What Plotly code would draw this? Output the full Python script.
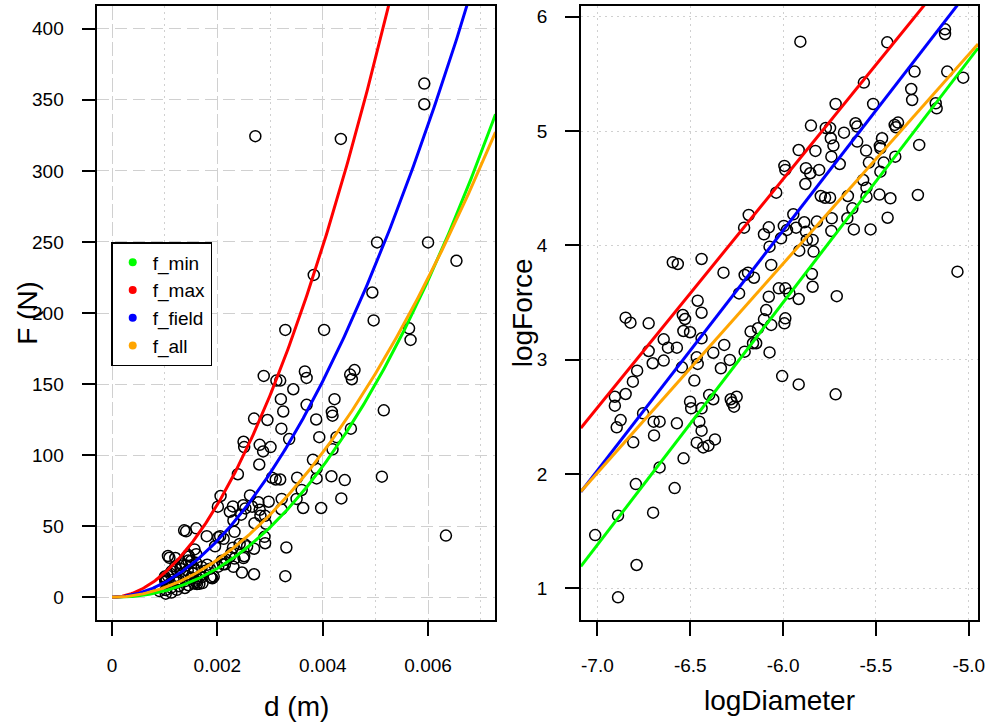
import numpy as np
import plotly.graph_objects as go

# ---------------- data (natural-log scale) ----------------
logDiameter = [
    -5.907, -5.439, -5.128, -5.128, -5.292, -5.116, -5.030, -5.310, -5.305, -5.565,
    -5.515, -5.717, -5.178, -5.173, -5.850, -5.770, -5.747, -5.672, -5.610, -5.601,
    -5.743, -5.729, -5.601, -5.553, -5.479, -5.467, -5.476, -5.399, -5.381, -5.392,
    -5.267, -5.916, -5.826, -5.740, -5.695, -5.538, -5.458, -5.396, -5.476, -5.993,
    -5.988, -5.877, -5.854, -5.806, -5.880, -5.569, -5.551, -6.037, -5.797, -5.774,
    -5.747, -5.651, -5.551, -5.481, -5.422, -5.274, -6.185, -6.210, -6.103, -6.077,
    -5.945, -5.996, -5.979, -5.930, -5.886, -5.877, -5.818, -5.738, -5.740, -5.654,
    -5.627, -5.619, -5.529, -5.437, -6.073, -6.011, -5.872, -5.841, -5.913, -5.836,
    -6.594, -6.567, -6.439, -6.321, -6.207, -6.189, -6.157, -6.237, -6.064, -5.845,
    -5.841, -5.711, -6.023, -5.988, -5.966, -5.916, -6.077, -6.460, -6.439, -6.540,
    -6.528, -6.091, -6.103, -6.064, -5.988, -5.993, -6.848, -6.822, -6.724, -6.537,
    -6.501, -6.439, -6.643, -6.620, -6.572, -6.175, -6.135, -6.162, -6.145, -6.317,
    -6.073, -6.207, -6.376, -6.724, -5.061,
    -6.643, -6.702, -6.786, -6.809, -6.848, -6.906, -6.906, -6.875, -6.896, -6.807,
    -6.754, -6.697, -6.665, -6.695, -6.572, -6.545, -6.465, -6.460, -6.478, -6.335,
    -6.287, -6.501, -6.495, -6.439, -6.398, -6.376, -6.451, -6.439, -6.465, -6.430,
    -6.402, -6.367, -6.282, -6.250, -6.275, -6.264, -6.536, -6.665, -6.793, -6.584,
    -6.889, -6.700, -7.012, -6.789, -6.889, -6.005, -5.916, -5.717,
]
logForce = [
    5.782, 5.776, 5.890, 5.849, 5.520, 5.520, 5.467, 5.368, 5.272, 5.424,
    5.237, 5.237, 5.243, 5.199, 5.048, 5.027, 5.027, 4.986, 5.068, 5.039,
    4.937, 4.873, 4.908, 4.829, 4.870, 4.937, 4.850, 5.054, 5.074, 5.033,
    4.879, 4.834, 4.826, 4.776, 4.712, 4.724, 4.724, 4.776, 4.645, 4.695,
    4.660, 4.675, 4.631, 4.660, 4.537, 4.572, 4.505, 4.461, 4.432, 4.417,
    4.417, 4.432, 4.426, 4.444, 4.412, 4.441, 4.266, 4.155, 4.097, 4.158,
    4.272, 4.170, 4.135, 4.155, 4.202, 4.120, 4.208, 4.237, 4.126, 4.237,
    4.324, 4.140, 4.140, 4.242, 3.989, 4.062, 4.048, 4.048, 3.954, 3.946,
    3.852, 3.837, 3.881, 3.761, 3.741, 3.761, 3.717, 3.580, 3.829, 3.750,
    3.638, 3.556, 3.624, 3.624, 3.580, 3.531, 3.551, 3.516, 3.411, 3.391,
    3.356, 3.434, 3.353, 3.304, 3.362, 3.318, 3.368, 3.324, 3.318, 3.251,
    3.240, 3.187, 3.178, 3.105, 3.105, 3.246, 3.275, 3.144, 3.144, 3.129,
    3.064, 3.070, 3.061, 3.076, 3.770,
    2.992, 2.969, 2.904, 2.808, 2.700, 2.676, 2.598, 2.472, 2.408, 2.277,
    2.531, 2.458, 2.458, 2.338, 2.443, 2.933, 3.021, 2.963, 2.817, 2.925,
    2.998, 2.633, 2.575, 2.575, 2.692, 2.654, 2.458, 2.379, 2.274, 2.233,
    2.248, 2.303, 2.654, 2.676, 2.625, 2.589, 2.137, 2.058, 1.912, 1.877,
    1.636, 1.662, 1.466, 1.204, 0.921, 2.857, 2.784, 2.697,
]

series_names = ["f_min", "f_max", "f_field", "f_all"]
series_colors = ["#00FF00", "#FF0000", "#0000FF", "#FFA500"]
# power-law fits on the left panel: F = exp(lnA) * d^b
left_lnA = [16.56, 16.11, 15.68, 15.39]
left_b = [2.18, 1.92, 1.93, 1.95]
# straight-line fits on the right panel: logForce = intercept + slope * logDiameter
right_intercept = [16.22, 16.58, 16.73, 14.82]
right_slope = [2.12, 2.00, 2.10, 1.83]

left_xticks = [0, 0.002, 0.004, 0.006]
left_xticktext = ["0", "0.002", "0.004", "0.006"]
left_yticks = [0, 50, 100, 150, 200, 250, 300, 350, 400]
right_xticks = [-7.0, -6.5, -6.0, -5.5, -5.0]
right_xticktext = ["-7.0", "-6.5", "-6.0", "-5.5", "-5.0"]
right_yticks = [1, 2, 3, 4, 5, 6]

# ---------------- figure ----------------
W, H = 994, 723
FONT = "Liberation Sans, Arial, sans-serif"

d_vals = np.exp(np.array(logDiameter))
F_vals = np.exp(np.array(logForce))

LX = [-0.00028, 0.00728]
LY = [-16, 416]
RX = [-7.089, -4.950]
RY = [0.723, 6.094]

fig = go.Figure()

fig.add_trace(go.Scatter(
    x=d_vals, y=F_vals, mode="markers", xaxis="x", yaxis="y", showlegend=False,
    marker=dict(symbol="circle-open", size=11, color="black", line=dict(width=1.5)),
))
fig.add_trace(go.Scatter(
    x=logDiameter, y=logForce, mode="markers", xaxis="x2", yaxis="y2", showlegend=False,
    marker=dict(symbol="circle-open", size=11, color="black", line=dict(width=1.5)),
))

dgrid = np.linspace(0, LX[1], 300)
xgrid = np.linspace(RX[0], RX[1], 2)
for name, col, a, b, ic, sl in zip(series_names, series_colors, left_lnA, left_b,
                                   right_intercept, right_slope):
    fig.add_trace(go.Scatter(
        x=dgrid, y=np.exp(a) * dgrid ** b, mode="lines", xaxis="x", yaxis="y",
        line=dict(color=col, width=3), showlegend=False, hoverinfo="skip",
    ))
    fig.add_trace(go.Scatter(
        x=xgrid, y=ic + sl * xgrid, mode="lines", xaxis="x2", yaxis="y2",
        line=dict(color=col, width=3), showlegend=False, hoverinfo="skip",
    ))

for name, col in zip(series_names, series_colors):
    fig.add_trace(go.Scatter(
        x=[None], y=[None], mode="markers", name=name, xaxis="x", yaxis="y",
        marker=dict(color=col, size=8, symbol="circle"),
    ))

def px2fx(p):
    return p / W

def py2fy(p):
    return 1 - p / H

ax_common = dict(
    showline=True, linecolor="black", linewidth=1.5, mirror=True,
    ticks="outside", ticklen=14, tickwidth=1.5, tickcolor="black",
    tickfont=dict(family=FONT, size=19, color="black"),
    zeroline=False, gridcolor="#d0d0d0", gridwidth=1.2,
)

fig.update_layout(
    width=W, height=H,
    margin=dict(l=0, r=0, t=0, b=0),
    paper_bgcolor="white", plot_bgcolor="white",
    font=dict(family=FONT, color="black"),
    xaxis=dict(
        domain=[px2fx(98), px2fx(499)], range=LX, anchor="y",
        tickvals=left_xticks, ticktext=left_xticktext, griddash="12px,6px",
        ticklabelstandoff=13,
        minor=dict(dtick=0.001, tick0=0, showgrid=True, gridcolor="#d0d0d0",
                   griddash="2px,4px", gridwidth=1.2, ticks=""),
        **ax_common,
    ),
    yaxis=dict(
        domain=[py2fy(620), py2fy(6)], range=LY, anchor="x",
        tickvals=left_yticks, griddash="12px,6px", ticklabelstandoff=14,
        **ax_common,
    ),
    xaxis2=dict(
        domain=[px2fx(585), px2fx(985)], range=RX, anchor="y2",
        tickvals=right_xticks, ticktext=right_xticktext, griddash="2px,4px",
        ticklabelstandoff=13,
        **ax_common,
    ),
    yaxis2=dict(
        domain=[py2fy(620), py2fy(6)], range=RY, anchor="x2",
        tickvals=right_yticks, griddash="2px,4px", ticklabelstandoff=14,
        **ax_common,
    ),
    legend=dict(
        x=px2fx(112), y=py2fy(242), xanchor="left", yanchor="top",
        bgcolor="white", bordercolor="black", borderwidth=1.5,
        font=dict(family=FONT, size=19, color="black"),
        itemwidth=30, tracegroupgap=0,
    ),
    showlegend=True,
    annotations=[
        dict(text="d (m)", x=px2fx(298.5), y=py2fy(706), xref="paper", yref="paper",
             showarrow=False, font=dict(family=FONT, size=28), xanchor="center", yanchor="middle"),
        dict(text="F (N)", x=px2fx(27), y=py2fy(313), xref="paper", yref="paper",
             showarrow=False, font=dict(family=FONT, size=28), textangle=-90,
             xanchor="center", yanchor="middle"),
        dict(text="logDiameter", x=px2fx(785), y=py2fy(700), xref="paper", yref="paper",
             showarrow=False, font=dict(family=FONT, size=28), xanchor="center", yanchor="middle"),
        dict(text="logForce", x=px2fx(526), y=py2fy(313), xref="paper", yref="paper",
             showarrow=False, font=dict(family=FONT, size=28), textangle=-90,
             xanchor="center", yanchor="middle"),
    ],
)

fig.write_html("out.html")
